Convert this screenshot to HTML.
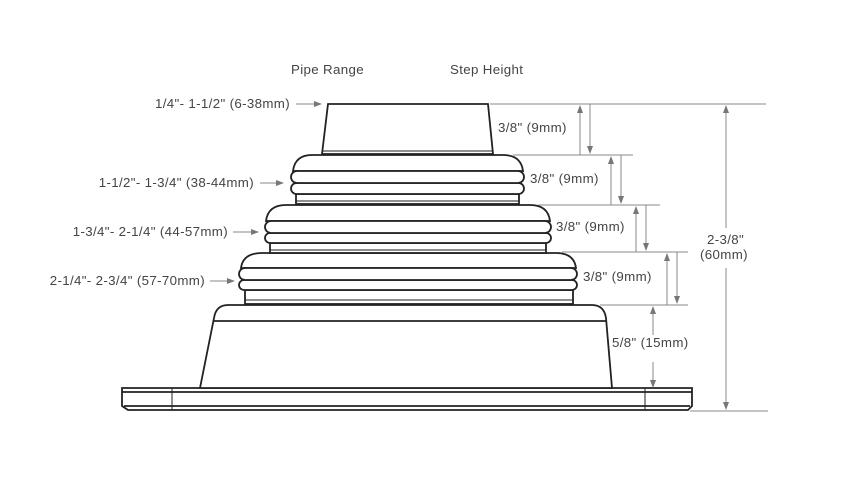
<!DOCTYPE html>
<html><head><style>
html,body{margin:0;padding:0;background:#fff;}
svg{display:block;}
text{font-family:"Liberation Sans",sans-serif;font-size:13.3px;letter-spacing:0.35px;fill:#444;}
</style></head><body>
<svg width="860" height="484" viewBox="0 0 860 484" xmlns="http://www.w3.org/2000/svg">
<defs>
<marker id="a" markerWidth="8" markerHeight="8" refX="7" refY="4" orient="auto" markerUnits="userSpaceOnUse">
<path d="M0,1 L8,4 L0,7 Z" fill="#777"/></marker>
</defs>
<g fill="#fff" stroke="#222" stroke-width="1.8">
<path d="M128,410 L688,410 L692,406 L692,388 L122,388 L122,406 Z"/>
<line x1="122" y1="392" x2="692" y2="392"/>
<line x1="124" y1="406" x2="690" y2="406"/>
<line x1="172" y1="388" x2="172" y2="410" stroke-width="1"/>
<line x1="645" y1="388" x2="645" y2="410" stroke-width="1"/>
<path d="M200,388 L214,318 Q216,305 228,305 L592,305 Q604,305 606,318 L612,388 Z"/>
<line x1="214" y1="321" x2="606" y2="321"/>
<rect x="245" y="290" width="328" height="14"/>
<line x1="245" y1="300" x2="573" y2="300" stroke-width="1"/>
<path d="M241,268 Q243,253 262,253 L556,253 Q574,253 576,268 Z"/>
<rect x="239" y="280" width="338" height="10" rx="5"/>
<rect x="239" y="268" width="338" height="12" rx="6"/>
<rect x="270" y="243" width="276" height="10"/>
<line x1="270" y1="250" x2="546" y2="250" stroke-width="1"/>
<path d="M266,221 Q268,205 286,205 L530,205 Q548,205 550,221 Z"/>
<rect x="265" y="233" width="286" height="10" rx="5"/>
<rect x="265" y="221" width="286" height="12" rx="6"/>
<rect x="296" y="194" width="223" height="10"/>
<line x1="296" y1="201" x2="519" y2="201" stroke-width="1"/>
<path d="M293,171 Q295,155 312,155 L503,155 Q521,155 523,171 Z"/>
<rect x="291" y="183" width="233" height="11" rx="5.5"/>
<rect x="291" y="171" width="233" height="12" rx="6"/>
<path d="M322,154 L328,104 L488,104 L493,154 Z"/>
<line x1="323" y1="151" x2="492" y2="151" stroke-width="1"/>
</g>
<g stroke="#888" stroke-width="1">
<line x1="490" y1="104" x2="766" y2="104"/>
<line x1="513" y1="155" x2="633" y2="155"/>
<line x1="538" y1="205" x2="660" y2="205"/>
<line x1="562" y1="252" x2="688" y2="252"/>
<line x1="600" y1="305" x2="688" y2="305"/>
<line x1="690" y1="411" x2="768" y2="411"/>
<line x1="580" y1="155" x2="580" y2="106" marker-end="url(#a)"/>
<line x1="590" y1="104" x2="590" y2="153" marker-end="url(#a)"/>
<line x1="611" y1="205" x2="611" y2="157" marker-end="url(#a)"/>
<line x1="621" y1="155" x2="621" y2="203" marker-end="url(#a)"/>
<line x1="636" y1="252" x2="636" y2="207" marker-end="url(#a)"/>
<line x1="646" y1="205" x2="646" y2="250" marker-end="url(#a)"/>
<line x1="667" y1="305" x2="667" y2="254" marker-end="url(#a)"/>
<line x1="677" y1="252" x2="677" y2="303" marker-end="url(#a)"/>
<line x1="653" y1="335" x2="653" y2="307" marker-end="url(#a)"/>
<line x1="653" y1="362" x2="653" y2="387" marker-end="url(#a)"/>
<line x1="726" y1="228" x2="726" y2="106" marker-end="url(#a)"/>
<line x1="726" y1="268" x2="726" y2="409" marker-end="url(#a)"/>
<line x1="296" y1="104" x2="321" y2="104" marker-end="url(#a)"/>
<line x1="260" y1="183" x2="283" y2="183" marker-end="url(#a)"/>
<line x1="233" y1="232" x2="258" y2="232" marker-end="url(#a)"/>
<line x1="210" y1="281" x2="234" y2="281" marker-end="url(#a)"/>
</g>
<text x="291" y="74">Pipe Range</text>
<text x="450" y="74">Step Height</text>
<text x="290" y="108" text-anchor="end">1/4"- 1-1/2" (6-38mm)</text>
<text x="254" y="187" text-anchor="end">1-1/2"- 1-3/4" (38-44mm)</text>
<text x="228" y="236" text-anchor="end">1-3/4"- 2-1/4" (44-57mm)</text>
<text x="205" y="285" text-anchor="end">2-1/4"- 2-3/4" (57-70mm)</text>
<text x="498" y="132">3/8" (9mm)</text>
<text x="530" y="183">3/8" (9mm)</text>
<text x="556" y="231">3/8" (9mm)</text>
<text x="583" y="281">3/8" (9mm)</text>
<text x="612" y="347">5/8" (15mm)</text>
<text x="707" y="244">2-3/8"</text>
<text x="700" y="259">(60mm)</text>
</svg>
</body></html>
